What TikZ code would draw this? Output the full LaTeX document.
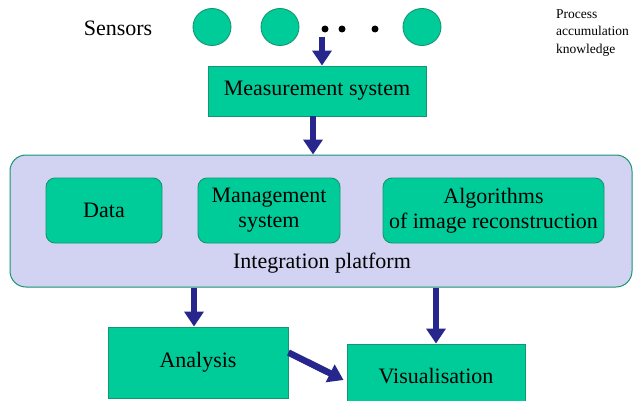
\documentclass[tikz,border=0pt]{standalone}
\usepackage{fontspec}
\setmainfont{Liberation Serif}
\newfontfamily\timesf{Liberation Serif}
\usetikzlibrary{arrows.meta,shapes.geometric}
\definecolor{boxgreen}{RGB}{0,204,153}
\definecolor{boxedge}{RGB}{20,150,115}
\definecolor{platfill}{RGB}{210,210,242}
\definecolor{arrblue}{RGB}{38,38,140}
\tikzset{
  gbox/.style={draw=boxedge,fill=boxgreen,line width=0.9pt,align=center,inner sep=0pt,font=\timesf\fontsize{22}{25}\selectfont},
  rbox/.style={gbox,rounded corners=9pt},
  sensor/.style={ellipse,draw=boxedge,fill=boxgreen,line width=0.9pt,minimum width=38pt,minimum height=37pt,inner sep=0pt},
  arr/.style={draw=arrblue,line width=6.5pt,-{Triangle[width=19pt,length=15pt]}},
  dotn/.style={circle,fill=black,minimum size=7pt,inner sep=0pt},
  lbl/.style={font=\timesf\fontsize{22}{25}\selectfont,inner sep=0pt}
}
\begin{document}
\begin{tikzpicture}[x=1pt,y=-1pt]
\useasboundingbox (0,0) rectangle (634,401);
\clip (0,0) rectangle (634,401);
% top row
\node[lbl] (sens) at (118,28) {Sensors};
\node[sensor] (s1) at (212,27) {};
\node[sensor] (s2) at (280,27) {};
\node[dotn] (d1) at (325,29) {};
\node[dotn] (d2) at (342,29) {};
\node[dotn] (d3) at (375,29) {};
\node[sensor] (s3) at (422,27) {};
\node[align=left,anchor=north west,inner sep=0pt,font=\timesf\fontsize{13.5}{17.5}\selectfont] (proc) at (556,9) {Process\\accumulation\\knowledge};
% measurement
\node[gbox,minimum width=218pt,minimum height=50pt] (meas) at (317,91) {\raisebox{-2pt}{Measurement system}};
\coordinate (sbot) at (322,37);
\draw[arr] (sbot) -- (sbot |- meas.north);
% platform
\node[draw=boxedge,fill=platfill,line width=1pt,rounded corners=16pt,minimum width=622pt,minimum height=132pt,inner sep=0pt] (plat) at (321,221) {};
\node[lbl] (platl) at (322,263) {Integration platform};
\node[rbox,minimum width=116pt,minimum height=65pt] (data) at (104,210.5) {Data};
\node[rbox,minimum width=142pt,minimum height=65pt] (mgmt) at (269,210.5) {Management\\system};
\node[rbox,minimum width=221pt,minimum height=65pt] (algo) at (493.5,210.5) {Algorithms\\of image reconstruction};
\draw[arr] ([xshift=-4pt]meas.south) -- ([xshift=-4pt]meas.south |- plat.north);
% bottom
\node[gbox,minimum width=180pt,minimum height=71pt] (ana) at (198,362.5) {\raisebox{4pt}{Analysis}};
\node[gbox,minimum width=178pt,minimum height=66pt] (vis) at (436,377) {\raisebox{2pt}{Visualisation}};
\draw[arr] ([xshift=-4pt]ana.north |- plat.south) -- ([xshift=-4pt]ana.north);
\draw[arr] (vis.north |- plat.south) -- (vis.north);
\draw[arr] ([yshift=10pt]ana.east) -- ([xshift=-3pt,yshift=-3pt]vis.west);
\end{tikzpicture}
\end{document}
